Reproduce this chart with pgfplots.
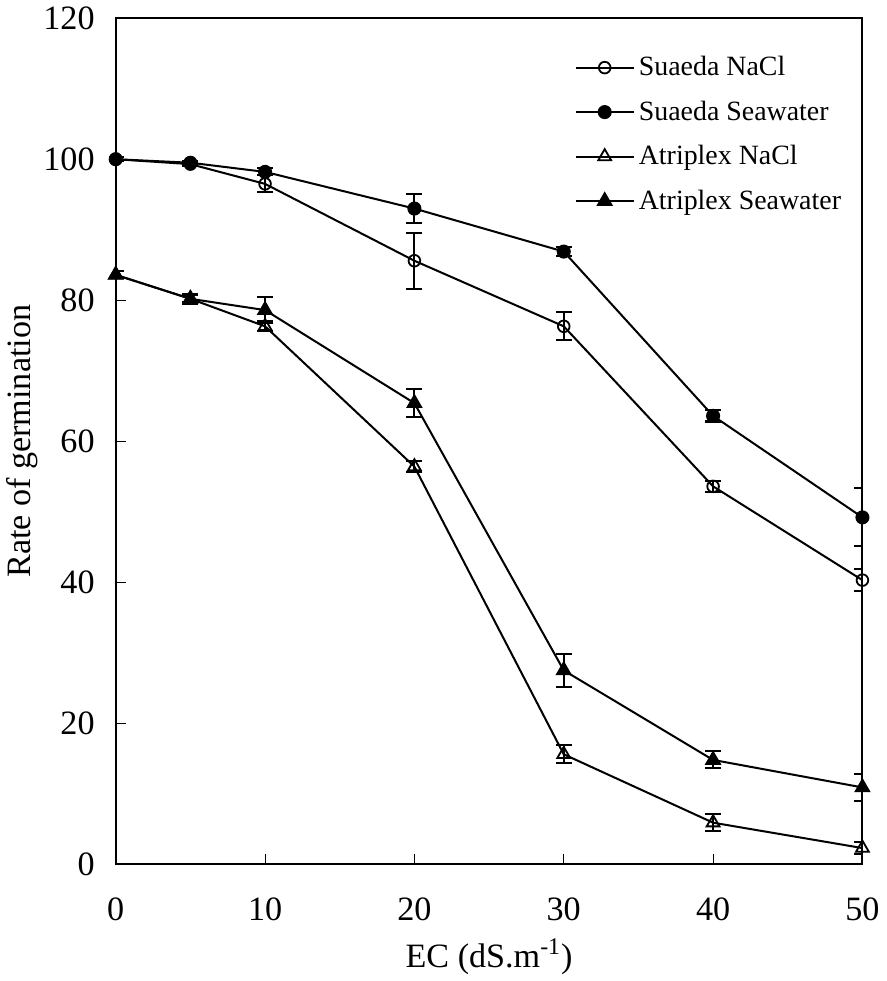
\documentclass[border=0pt]{standalone}
\usepackage{fontspec}
\setmainfont{Liberation Serif}
\usepackage{pgfplots}
\pgfplotsset{compat=1.18}

\begin{document}
\begin{tikzpicture}
\begin{axis}[
    scale only axis,
    width=372pt, height=421.5pt,
    xmin=0, xmax=50, ymin=0, ymax=120,
    xtick={0,10,20,30,40,50},
    ytick={0,20,40,60,80,100,120},
    tick align=inside,
    xtick pos=bottom, ytick pos=left,
    major tick length=5pt,
    axis line style={line width=1pt},
    tick style={line width=0.5pt, black},
    /pgf/number format/assume math mode=true,
    tick label style={font=\fontsize{17}{20}\selectfont},
    xticklabel style={yshift=-13pt},
    yticklabel style={xshift=-7pt},
    xlabel={EC (dS.m\textsuperscript{-1})},
    ylabel={Rate of germination},
    label style={font=\fontsize{17}{20}\selectfont},
    xlabel style={at={(axis description cs:0.5,-0.109)}, anchor=center},
    ylabel style={at={(axis description cs:-0.125,0.5)}, anchor=center, rotate=0},
    legend style={draw=none, fill=none, at={(axis description cs:0.614,0.960)}, anchor=north west,
        font=\fontsize{13.9}{16}\selectfont, row sep=7pt, inner sep=0pt},
    legend cell align=left,
    legend image code/.code={
        \draw[mark repeat=2, mark phase=2] plot coordinates {(0pt,0pt) (14.5pt,0pt) (29pt,0pt)};
    },
    every axis plot/.append style={black, line width=1pt},
    error bars/y dir=both, error bars/y explicit,
    error bars/error mark options={line width=1pt, mark size=4pt, rotate=90},
    error bars/error bar style={line width=1pt},
]
% Suaeda NaCl
\addplot[mark=o, mark size=2.9pt, mark options={line width=0.9pt, fill=white}] coordinates {
    (0,100) +- (0,0.3)
    (5,99.3) +- (0,0.3)
    (10,96.5) +- (0,1.2)
    (20,85.6) +- (0,4.0)
    (30,76.3) +- (0,2.0)
    (40,53.6) +- (0,0.8)
    (50,40.3) +- (0,1.6)
};
\addlegendentry{Suaeda NaCl}
% Suaeda Seawater
\addplot[mark=*, mark size=3pt] coordinates {
    (0,100) +- (0,0.3)
    (5,99.5) +- (0,0.3)
    (10,98.2) +- (0,0.5)
    (20,93.0) +- (0,2.1)
    (30,86.9) +- (0,0.6)
    (40,63.6) +- (0,0.8)
    (50,49.2) +- (0,4.1)
};
\addlegendentry{Suaeda Seawater}
% Atriplex NaCl
\addplot[mark=triangle, mark size=3.7pt, mark options={line width=0.9pt}] coordinates {
    (0,83.6) +- (0,0.5)
    (5,80.2) +- (0,0.5)
    (10,76.3) +- (0,0.7)
    (20,56.4) +- (0,0.8)
    (30,15.6) +- (0,1.3)
    (40,5.9) +- (0,1.2)
    (50,2.3) +- (0,0.8)
};
\addlegendentry{Atriplex NaCl}
% Atriplex Seawater
\addplot[mark=triangle*, mark size=3.8pt] coordinates {
    (0,83.6) +- (0,0.5)
    (5,80.2) +- (0,0.7)
    (10,78.6) +- (0,1.8)
    (20,65.4) +- (0,2.0)
    (30,27.5) +- (0,2.3)
    (40,14.8) +- (0,1.2)
    (50,10.9) +- (0,1.9)
};
\addlegendentry{Atriplex Seawater}
\end{axis}
\end{tikzpicture}
\end{document}
